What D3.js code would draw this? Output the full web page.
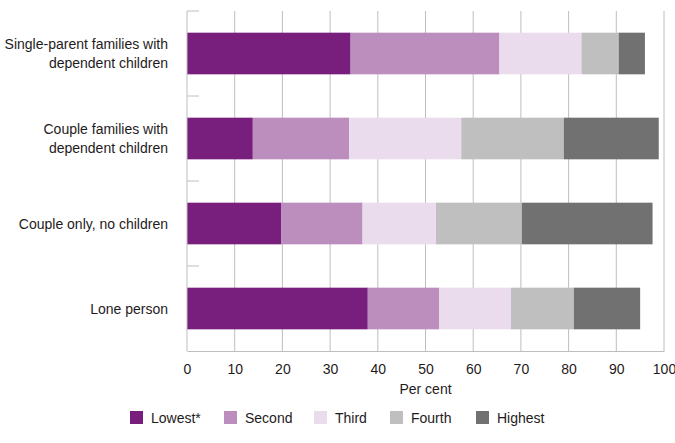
<!DOCTYPE html>
<html>
<head>
<meta charset="utf-8">
<script src="https://cdn.jsdelivr.net/npm/d3@7"></script>
<style>
  html, body { margin: 0; padding: 0; background: #fff; }
  svg { display: block; font-family: "Liberation Sans", Arial, sans-serif; }
</style>
</head>
<body>
<svg id="chart" width="675" height="443"></svg>
<script>
const categories = [
  ["Single-parent families with", "dependent children"],
  ["Couple families with", "dependent children"],
  ["Couple only, no children"],
  ["Lone person"]
];
const seriesNames = ["Lowest*", "Second", "Third", "Fourth", "Highest"];
const lowest  = [34.3, 13.8, 19.8, 37.9];
const second  = [31.2, 20.2, 17.0, 15.0];
const third   = [17.2, 23.5, 15.4, 15.0];
const fourth  = [7.8, 21.5, 18.0, 13.2];
const highest = [5.5, 19.9, 27.4, 13.9];
const xTicks = [0, 10, 20, 30, 40, 50, 60, 70, 80, 90, 100];
const colors = ["#781e7d", "#bc8ebd", "#eadcec", "#bfbfbf", "#727171"];

const svg = d3.select("#chart");
const x = d3.scaleLinear().domain([0, 100]).range([187, 664]);
const keys = categories.map((c, i) => "c" + i);
const y = d3.scaleBand().domain(keys).range([11, 351]).paddingInner(0.51).paddingOuter(0.255);

const gridColor = "#bebebe";
const textColor = "#1f1b1c";

// vertical gridlines
svg.append("g").selectAll("line").data(xTicks.slice(1)).join("line")
  .attr("x1", d => x(d)).attr("x2", d => x(d))
  .attr("y1", 11).attr("y2", 351)
  .attr("stroke", gridColor).attr("stroke-width", 1);

// data table
const table = keys.map((k, i) => {
  const o = {key: k};
  o[seriesNames[0]] = lowest[i];
  o[seriesNames[1]] = second[i];
  o[seriesNames[2]] = third[i];
  o[seriesNames[3]] = fourth[i];
  o[seriesNames[4]] = highest[i];
  return o;
});
const stack = d3.stack().keys(seriesNames)(table);

svg.append("g").selectAll("g").data(stack).join("g")
  .attr("fill", (d, i) => colors[i])
  .selectAll("rect").data(d => d).join("rect")
  .attr("x", d => x(d[0]))
  .attr("width", d => x(d[1]) - x(d[0]))
  .attr("y", d => y(d.data.key))
  .attr("height", y.bandwidth());

// left axis line + ticks at band boundaries
svg.append("line").attr("x1", x(0)).attr("x2", x(0)).attr("y1", 11).attr("y2", 351)
  .attr("stroke", gridColor);
const boundaries = keys.map(k => y(k) - y.step() * y.paddingOuter());
svg.append("g").selectAll("line").data(boundaries).join("line")
  .attr("x1", x(0)).attr("x2", x(0) + 12)
  .attr("y1", d => d).attr("y2", d => d)
  .attr("stroke", gridColor);

// bottom axis
const xAxis = d3.axisBottom(x).tickValues(xTicks).tickSize(0).tickPadding(13);
const gx = svg.append("g").attr("transform", "translate(0,351)").call(xAxis);
gx.select(".domain").attr("stroke", gridColor);
gx.selectAll("text").attr("font-size", 14).attr("fill", textColor)
  .attr("font-family", "Liberation Sans, Arial, sans-serif");

svg.append("text").attr("x", x(50)).attr("y", 394)
  .attr("text-anchor", "middle").attr("font-size", 14).attr("fill", textColor)
  .text("Per cent");

// category labels
const lab = svg.append("g").selectAll("text").data(categories).join("text")
  .attr("text-anchor", "end").attr("font-size", 14).attr("fill", textColor)
  .attr("x", 168)
  .attr("y", (d, i) => y(keys[i]) + y.bandwidth() / 2);
lab.selectAll("tspan").data(d => d.map((t, j) => ({t, j, n: d.length}))).join("tspan")
  .attr("x", 168)
  .attr("y", function(d) {
    const base = +this.parentNode.getAttribute("y");
    return base + (d.j - (d.n - 1) / 2) * 19 + 5;
  })
  .text(d => d.t);

// legend
const legendX = [130, 224, 314, 390, 476];
const lg = svg.append("g").selectAll("g").data(seriesNames).join("g")
  .attr("transform", (d, i) => `translate(${legendX[i]},411)`);
lg.append("rect").attr("width", 13).attr("height", 13).attr("fill", (d, i) => colors[i]);
lg.append("text").attr("x", 21).attr("y", 11.5).attr("font-size", 14).attr("fill", textColor).text(d => d);
</script>
</body>
</html>
